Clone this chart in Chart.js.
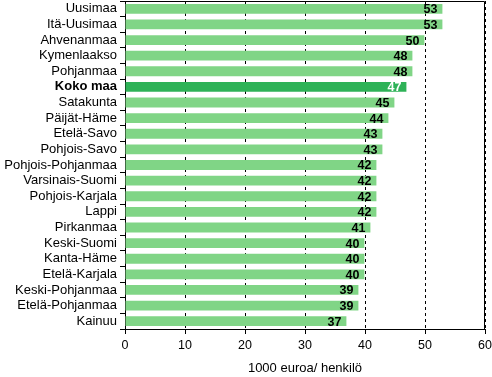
<!DOCTYPE html>
<html>
<head>
<meta charset="utf-8">
<script src="https://cdn.jsdelivr.net/npm/chart.js@4/dist/chart.umd.min.js"></script>
<style>
  html, body { margin: 0; padding: 0; background: #fff; }
  #wrap { width: 492px; height: 377px; }
</style>
</head>
<body>
<div id="wrap"><canvas id="myChart"></canvas></div>
<script>
var regions = ['Uusimaa','Itä-Uusimaa','Ahvenanmaa','Kymenlaakso','Pohjanmaa','Koko maa','Satakunta','Päijät-Häme','Etelä-Savo','Pohjois-Savo','Pohjois-Pohjanmaa','Varsinais-Suomi','Pohjois-Karjala','Lappi','Pirkanmaa','Keski-Suomi','Kanta-Häme','Etelä-Karjala','Keski-Pohjanmaa','Etelä-Pohjanmaa','Kainuu'];
var values = [52.9,52.9,49.9,47.9,47.9,46.9,44.9,43.9,42.9,42.9,41.9,41.9,41.9,41.9,40.9,39.9,39.9,39.9,38.9,38.9,36.9];
var wholeCountry = 5;
var xTicks = [0,10,20,30,40,50,60];

var light = '#80d586';
var dark = '#2eb257';
var barColors = regions.map(function (r, i) { return i === wholeCountry ? dark : light; });

var fontFam = '"Liberation Sans", Arial, sans-serif';

var valueLabels = {
    id: 'valueLabels',
    afterDatasetsDraw: function (chart) {
        var ctx = chart.ctx;
        var meta = chart.getDatasetMeta(0);
        ctx.save();
        ctx.font = 'bold 12.5px ' + fontFam;
        ctx.textAlign = 'right';
        ctx.textBaseline = 'middle';
        meta.data.forEach(function (bar, i) {
            ctx.fillStyle = i === wholeCountry ? '#fff' : '#000';
            ctx.fillText(Math.round(values[i]), bar.x - 5, bar.y + 1);
        });
        ctx.restore();
    }
};

var frame = {
    id: 'frame',
    afterDraw: function (chart) {
        var a = chart.chartArea;
        var ctx = chart.ctx;
        ctx.save();
        ctx.strokeStyle = '#000';
        ctx.lineWidth = 1;
        ctx.beginPath();
        ctx.moveTo(Math.round(a.left) + 0.5, Math.round(a.top) + 0.5);
        ctx.lineTo(Math.round(a.right) - 0.5, Math.round(a.top) + 0.5);
        ctx.lineTo(Math.round(a.right) - 0.5, Math.round(a.bottom));
        ctx.stroke();
        ctx.restore();
    }
};

var ctx = document.getElementById('myChart').getContext('2d');
var myChart = new Chart(ctx, {
    type: 'bar',
    data: {
        labels: regions,
        datasets: [{
            data: values,
            backgroundColor: barColors,
            barPercentage: 0.63,
            categoryPercentage: 1
        }]
    },
    options: {
        indexAxis: 'y',
        responsive: true,
        maintainAspectRatio: false,
        animation: false,
        layout: { padding: { top: 1, right: 7, left: 0, bottom: 0 } },
        plugins: {
            legend: { display: false },
            tooltip: { enabled: false }
        },
        scales: {
            x: {
                min: 0,
                max: 60,
                afterBuildTicks: function (scale) {
                    scale.ticks = xTicks.map(function (v) { return { value: v }; });
                },
                afterFit: function (scale) {
                    scale.height = 48;
                    scale.paddingLeft = 0;
                    scale.paddingRight = 0;
                },
                grid: {
                    color: '#000',
                    lineWidth: 1,
                    tickLength: 5,
                    tickBorderDash: []
                },
                border: { color: '#000', dash: [3, 3] },
                ticks: {
                    color: '#000',
                    padding: 4,
                    maxRotation: 0,
                    font: { family: fontFam, size: 12.5 }
                },
                title: {
                    display: true,
                    text: '1000 euroa/ henkilö',
                    color: '#000',
                    padding: { top: 0, bottom: 1 },
                    font: { family: fontFam, size: 13 }
                }
            },
            y: {
                afterFit: function (scale) {
                    scale.width = 125;
                    scale.paddingTop = 0;
                    scale.paddingBottom = 0;
                },
                grid: {
                    drawOnChartArea: false,
                    color: '#000',
                    tickLength: 5
                },
                border: { color: '#000' },
                ticks: {
                    color: '#000',
                    padding: 3,
                    autoSkip: false,
                    font: function (c) {
                        return c.index === wholeCountry
                            ? { family: fontFam, size: 13, weight: 'bold' }
                            : { family: fontFam, size: 13 };
                    }
                }
            }
        }
    },
    plugins: [valueLabels, frame]
});
</script>
</body>
</html>
